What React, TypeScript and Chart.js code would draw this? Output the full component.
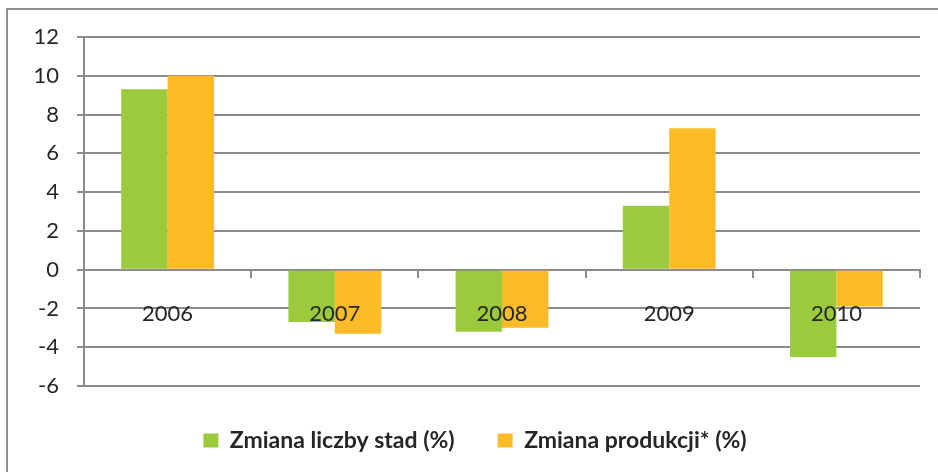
import React, { useEffect, useRef } from "react";
import { Chart, registerables } from "chart.js";

Chart.register(...registerables);

const categories = ["2006", "2007", "2008", "2009", "2010"];
const herdChange = [9.3, -2.7, -3.2, 3.3, -4.5];
const productionChange = [10.0, -3.3, -3.0, 7.3, -1.9];
const seriesNames = ["Zmiana liczby stad (%)", "Zmiana produkcji* (%)"];
const yMin = -6;
const yMax = 12;
const yStep = 2;

const GREEN = "#9BCA3C";
const ORANGE = "#FDBB2A";
const GRID = "#8C8C8C";
const TEXT = "#262626";
const FONT = "Lato, 'Open Sans', sans-serif";

export default function App() {
  const ref = useRef<HTMLCanvasElement | null>(null);

  useEffect(() => {
    if (!ref.current) return;
    const chart = new Chart(ref.current, {
      type: "bar",
      data: {
        labels: categories,
        datasets: [
          {
            label: seriesNames[0],
            data: herdChange,
            backgroundColor: GREEN,
            borderWidth: 0,
            categoryPercentage: 0.555,
            barPercentage: 1,
          },
          {
            label: seriesNames[1],
            data: productionChange,
            backgroundColor: ORANGE,
            borderWidth: 0,
            categoryPercentage: 0.555,
            barPercentage: 1,
          },
        ],
      },
      options: {
        responsive: false,
        animation: false,
        devicePixelRatio: 1,
        layout: { padding: { left: 30, right: 18, top: 37, bottom: 10 } },
        plugins: {
          tooltip: { enabled: false },
          title: { display: false },
          legend: {
            display: true,
            position: "bottom",
            labels: {
              boxWidth: 15,
              boxHeight: 14,
              padding: 43,
              color: TEXT,
              font: { family: FONT, size: 23, weight: "bold" },
            },
          },
        },
        scales: {
          x: {
            type: "category",
            position: { y: 0 } as any,
            offset: true,
            grid: {
              display: true,
              drawOnChartArea: false,
              drawTicks: true,
              tickLength: 7,
              color: GRID,
              lineWidth: 2,
              offset: true,
              z: -1,
            },
            border: { display: true, color: GRID, width: 2 },
            ticks: {
              color: TEXT,
              font: { family: FONT, size: 22 },
              padding: 24,
              maxRotation: 0,
              z: 1,
            } as any,
          },
          y: {
            min: yMin,
            max: yMax,
            afterFit: (scale: any) => {
              scale.width = 54;
            },
            grid: {
              color: GRID,
              lineWidth: 2,
              tickLength: 7,
              drawTicks: true,
            },
            border: { display: true, color: GRID, width: 2 },
            ticks: {
              stepSize: yStep,
              color: TEXT,
              font: { family: FONT, size: 22 },
              padding: 18,
            },
          },
        },
      },
    });
    return () => chart.destroy();
  }, []);

  return (
    <div
      style={{
        position: "fixed",
        left: 0,
        top: 0,
        width: 938,
        height: 472,
        background: "#ffffff",
        overflow: "hidden",
      }}
    >
      <div
        style={{
          position: "absolute",
          left: 6,
          top: 8,
          width: 1000,
          height: 600,
          borderTop: "2px solid #8F8F8F",
          borderLeft: "2px solid #8F8F8F",
        }}
      />
      <canvas
        ref={ref}
        width={938}
        height={472}
        style={{ position: "absolute", left: 0, top: 0, width: 938, height: 472 }}
      />
    </div>
  );
}
